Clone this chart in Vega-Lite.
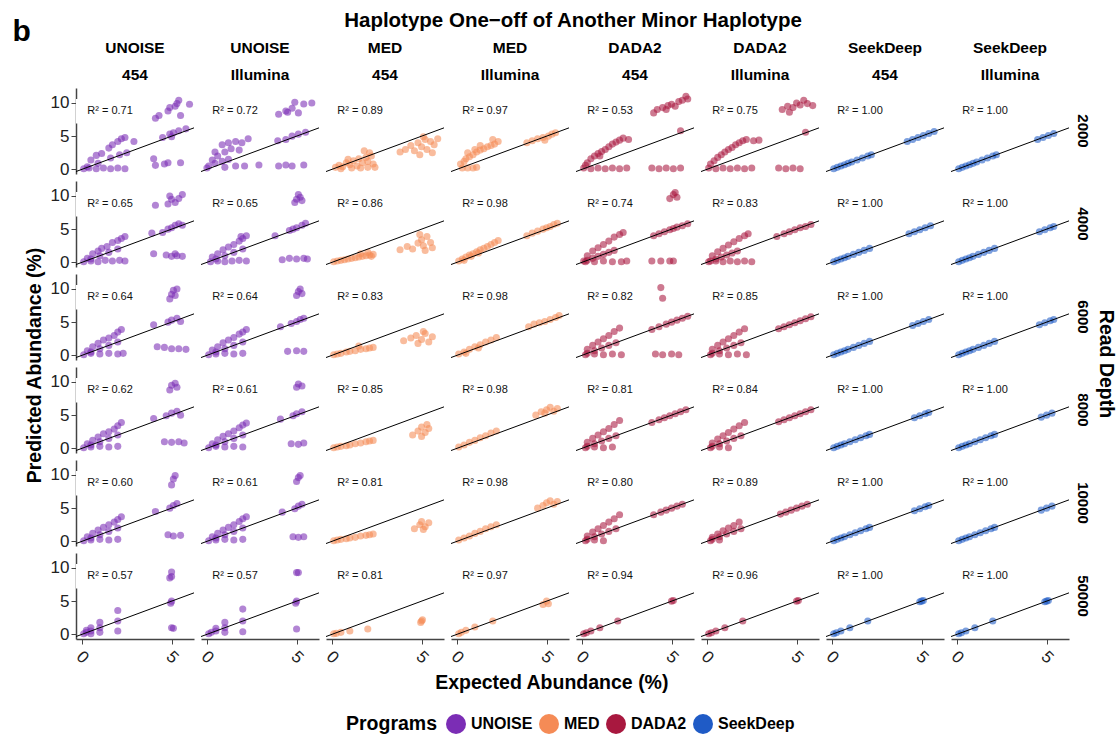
{
"$schema":"https://vega.github.io/schema/vega-lite/v6.json",
"padding":{"left":12,"top":10,"right":0,"bottom":0},
"background":"white",
"title":{"text":"b","anchor":"start","frame":"bounds","fontSize":30,"fontWeight":"bold","font":"Liberation Sans","color":"#000","offset":-36,"dx":-12},
"config":{"font":"Liberation Sans","view":{"stroke":null},"legend":{"layout":{"bottom":{"anchor":"middle"}}}},
"data":{"values":[
{"c":"U4","d":2000,"r":"R² = 0.71"},{"c":"UI","d":2000,"r":"R² = 0.72"},{"c":"M4","d":2000,"r":"R² = 0.89"},{"c":"MI","d":2000,"r":"R² = 0.97"},{"c":"D4","d":2000,"r":"R² = 0.53"},{"c":"DI","d":2000,"r":"R² = 0.75"},{"c":"S4","d":2000,"r":"R² = 1.00"},{"c":"SI","d":2000,"r":"R² = 1.00"},
{"c":"U4","d":4000,"r":"R² = 0.65"},{"c":"UI","d":4000,"r":"R² = 0.65"},{"c":"M4","d":4000,"r":"R² = 0.86"},{"c":"MI","d":4000,"r":"R² = 0.98"},{"c":"D4","d":4000,"r":"R² = 0.74"},{"c":"DI","d":4000,"r":"R² = 0.83"},{"c":"S4","d":4000,"r":"R² = 1.00"},{"c":"SI","d":4000,"r":"R² = 1.00"},
{"c":"U4","d":6000,"r":"R² = 0.64"},{"c":"UI","d":6000,"r":"R² = 0.64"},{"c":"M4","d":6000,"r":"R² = 0.83"},{"c":"MI","d":6000,"r":"R² = 0.98"},{"c":"D4","d":6000,"r":"R² = 0.82"},{"c":"DI","d":6000,"r":"R² = 0.85"},{"c":"S4","d":6000,"r":"R² = 1.00"},{"c":"SI","d":6000,"r":"R² = 1.00"},
{"c":"U4","d":8000,"r":"R² = 0.62"},{"c":"UI","d":8000,"r":"R² = 0.61"},{"c":"M4","d":8000,"r":"R² = 0.85"},{"c":"MI","d":8000,"r":"R² = 0.98"},{"c":"D4","d":8000,"r":"R² = 0.81"},{"c":"DI","d":8000,"r":"R² = 0.84"},{"c":"S4","d":8000,"r":"R² = 1.00"},{"c":"SI","d":8000,"r":"R² = 1.00"},
{"c":"U4","d":10000,"r":"R² = 0.60"},{"c":"UI","d":10000,"r":"R² = 0.61"},{"c":"M4","d":10000,"r":"R² = 0.81"},{"c":"MI","d":10000,"r":"R² = 0.98"},{"c":"D4","d":10000,"r":"R² = 0.80"},{"c":"DI","d":10000,"r":"R² = 0.89"},{"c":"S4","d":10000,"r":"R² = 1.00"},{"c":"SI","d":10000,"r":"R² = 1.00"},
{"c":"U4","d":50000,"r":"R² = 0.57"},{"c":"UI","d":50000,"r":"R² = 0.57"},{"c":"M4","d":50000,"r":"R² = 0.81"},{"c":"MI","d":50000,"r":"R² = 0.97"},{"c":"D4","d":50000,"r":"R² = 0.94"},{"c":"DI","d":50000,"r":"R² = 0.96"},{"c":"S4","d":50000,"r":"R² = 1.00"},{"c":"SI","d":50000,"r":"R² = 1.00"},

{"c":"U4","d":2000,"x":0.1,"y":0.1},{"c":"U4","d":2000,"x":0.4,"y":0.2},{"c":"U4","d":2000,"x":0.8,"y":0.1},{"c":"U4","d":2000,"x":1.2,"y":0.2},{"c":"U4","d":2000,"x":1.6,"y":0.1},{"c":"U4","d":2000,"x":2.0,"y":0.2},{"c":"U4","d":2000,"x":2.4,"y":0.1},
{"c":"U4","d":2000,"x":0.3,"y":0.4},{"c":"U4","d":2000,"x":0.9,"y":0.9},{"c":"U4","d":2000,"x":1.6,"y":1.7},{"c":"U4","d":2000,"x":2.1,"y":2.2},{"c":"U4","d":2000,"x":2.5,"y":2.5},
{"c":"U4","d":2000,"x":0.5,"y":1.4},{"c":"U4","d":2000,"x":0.8,"y":2.1},{"c":"U4","d":2000,"x":1.1,"y":2.4},{"c":"U4","d":2000,"x":1.5,"y":3.2},{"c":"U4","d":2000,"x":1.7,"y":3.7},{"c":"U4","d":2000,"x":2.0,"y":4.2},{"c":"U4","d":2000,"x":2.2,"y":4.6},{"c":"U4","d":2000,"x":2.4,"y":4.8},{"c":"U4","d":2000,"x":2.9,"y":4.2},
{"c":"U4","d":2000,"x":4.1,"y":7.7},{"c":"U4","d":2000,"x":4.3,"y":8.1},{"c":"U4","d":2000,"x":4.8,"y":8.8},{"c":"U4","d":2000,"x":4.9,"y":9.3},{"c":"U4","d":2000,"x":5.2,"y":9.5},{"c":"U4","d":2000,"x":5.4,"y":10.4},{"c":"U4","d":2000,"x":5.5,"y":8.1},{"c":"U4","d":2000,"x":6.0,"y":9.8},{"c":"U4","d":2000,"x":5.3,"y":9.9},
{"c":"U4","d":2000,"x":4.5,"y":4.8},{"c":"U4","d":2000,"x":4.9,"y":5.3},{"c":"U4","d":2000,"x":5.1,"y":5.5},{"c":"U4","d":2000,"x":5.4,"y":5.8},{"c":"U4","d":2000,"x":5.8,"y":6.1},{"c":"U4","d":2000,"x":5.0,"y":4.9},
{"c":"U4","d":2000,"x":4.0,"y":1.6},{"c":"U4","d":2000,"x":4.1,"y":0.6},{"c":"U4","d":2000,"x":4.6,"y":0.8},{"c":"U4","d":2000,"x":4.8,"y":1.0},{"c":"U4","d":2000,"x":5.5,"y":1.0},

{"c":"UI","d":2000,"x":4.0,"y":8.3},{"c":"UI","d":2000,"x":4.4,"y":8.8},{"c":"UI","d":2000,"x":4.75,"y":9.2},{"c":"UI","d":2000,"x":4.9,"y":10.1},{"c":"UI","d":2000,"x":5.4,"y":9.85},{"c":"UI","d":2000,"x":5.85,"y":10.0},{"c":"UI","d":2000,"x":5.1,"y":8.5},{"c":"UI","d":2000,"x":4.5,"y":8.6},
{"c":"UI","d":2000,"x":4.4,"y":4.5},{"c":"UI","d":2000,"x":4.75,"y":5.0},{"c":"UI","d":2000,"x":5.1,"y":5.3},{"c":"UI","d":2000,"x":5.5,"y":5.6},{"c":"UI","d":2000,"x":3.95,"y":4.3},
{"c":"UI","d":2000,"x":4.0,"y":0.5},{"c":"UI","d":2000,"x":4.4,"y":0.65},{"c":"UI","d":2000,"x":4.75,"y":0.5},{"c":"UI","d":2000,"x":5.4,"y":0.65},{"c":"UI","d":2000,"x":2.9,"y":0.65},
{"c":"UI","d":2000,"x":0.85,"y":3.7},{"c":"UI","d":2000,"x":1.2,"y":4.0},{"c":"UI","d":2000,"x":1.6,"y":4.2},{"c":"UI","d":2000,"x":1.95,"y":4.0},{"c":"UI","d":2000,"x":2.3,"y":4.6},{"c":"UI","d":2000,"x":0.45,"y":2.6},
{"c":"UI","d":2000,"x":0.3,"y":1.4},{"c":"UI","d":2000,"x":0.6,"y":2.0},{"c":"UI","d":2000,"x":1.0,"y":2.6},{"c":"UI","d":2000,"x":1.35,"y":3.1},{"c":"UI","d":2000,"x":1.8,"y":2.9},
{"c":"UI","d":2000,"x":0.1,"y":0.5},{"c":"UI","d":2000,"x":0.45,"y":0.9},{"c":"UI","d":2000,"x":0.85,"y":1.2},{"c":"UI","d":2000,"x":1.2,"y":1.5},{"c":"UI","d":2000,"x":1.6,"y":0.5},{"c":"UI","d":2000,"x":2.1,"y":0.5},{"c":"UI","d":2000,"x":0.0,"y":0.2},{"c":"UI","d":2000,"x":1.0,"y":0.3},

{"c":"M4","d":2000,"x":0.2,"y":0.3},{"c":"M4","d":2000,"x":0.4,"y":0.6},{"c":"M4","d":2000,"x":0.6,"y":0.4},{"c":"M4","d":2000,"x":0.8,"y":1.0},{"c":"M4","d":2000,"x":1.0,"y":0.7},{"c":"M4","d":2000,"x":1.2,"y":1.3},{"c":"M4","d":2000,"x":1.4,"y":0.5},{"c":"M4","d":2000,"x":1.5,"y":1.6},{"c":"M4","d":2000,"x":1.7,"y":1.0},{"c":"M4","d":2000,"x":1.9,"y":1.8},{"c":"M4","d":2000,"x":2.0,"y":1.2},{"c":"M4","d":2000,"x":2.2,"y":2.0},{"c":"M4","d":2000,"x":2.3,"y":0.8},{"c":"M4","d":2000,"x":1.8,"y":2.8},{"c":"M4","d":2000,"x":2.1,"y":2.5},{"c":"M4","d":2000,"x":0.5,"y":0.1},{"c":"M4","d":2000,"x":1.1,"y":0.2},{"c":"M4","d":2000,"x":1.6,"y":0.2},{"c":"M4","d":2000,"x":2.0,"y":0.3},{"c":"M4","d":2000,"x":2.4,"y":0.3},{"c":"M4","d":2000,"x":0.9,"y":1.5},
{"c":"M4","d":2000,"x":3.8,"y":2.6},{"c":"M4","d":2000,"x":4.1,"y":3.0},{"c":"M4","d":2000,"x":4.4,"y":3.6},{"c":"M4","d":2000,"x":4.6,"y":2.8},{"c":"M4","d":2000,"x":4.8,"y":4.0},{"c":"M4","d":2000,"x":5.0,"y":3.4},{"c":"M4","d":2000,"x":5.2,"y":4.5},{"c":"M4","d":2000,"x":5.3,"y":3.0},{"c":"M4","d":2000,"x":5.5,"y":4.2},{"c":"M4","d":2000,"x":5.7,"y":3.7},{"c":"M4","d":2000,"x":5.9,"y":4.6},{"c":"M4","d":2000,"x":4.9,"y":2.2},{"c":"M4","d":2000,"x":5.6,"y":2.5},{"c":"M4","d":2000,"x":5.1,"y":4.9},

{"c":"MI","d":2000,"x":0.2,"y":0.8},{"c":"MI","d":2000,"x":0.4,"y":1.2},{"c":"MI","d":2000,"x":0.5,"y":1.6},{"c":"MI","d":2000,"x":0.7,"y":1.9},{"c":"MI","d":2000,"x":0.9,"y":2.2},{"c":"MI","d":2000,"x":1.1,"y":2.6},{"c":"MI","d":2000,"x":1.3,"y":2.9},{"c":"MI","d":2000,"x":1.5,"y":3.1},{"c":"MI","d":2000,"x":1.7,"y":3.4},{"c":"MI","d":2000,"x":1.9,"y":3.6},{"c":"MI","d":2000,"x":2.1,"y":3.8},{"c":"MI","d":2000,"x":2.3,"y":4.2},{"c":"MI","d":2000,"x":0.6,"y":2.5},{"c":"MI","d":2000,"x":1.0,"y":3.0},{"c":"MI","d":2000,"x":1.3,"y":3.6},{"c":"MI","d":2000,"x":2.0,"y":4.5},{"c":"MI","d":2000,"x":0.3,"y":0.2},{"c":"MI","d":2000,"x":0.6,"y":0.2},{"c":"MI","d":2000,"x":0.9,"y":0.2},{"c":"MI","d":2000,"x":1.1,"y":0.3},
{"c":"MI","d":2000,"x":3.9,"y":4.0},{"c":"MI","d":2000,"x":4.2,"y":4.3},{"c":"MI","d":2000,"x":4.5,"y":4.6},{"c":"MI","d":2000,"x":4.8,"y":4.8},{"c":"MI","d":2000,"x":5.1,"y":5.0},{"c":"MI","d":2000,"x":5.3,"y":5.3},{"c":"MI","d":2000,"x":5.5,"y":5.5},{"c":"MI","d":2000,"x":4.9,"y":4.4},

{"c":"D4","d":2000,"x":4.0,"y":8.5},{"c":"D4","d":2000,"x":4.2,"y":9.0},{"c":"D4","d":2000,"x":4.5,"y":9.3},{"c":"D4","d":2000,"x":4.8,"y":9.6},{"c":"D4","d":2000,"x":5.0,"y":9.8},{"c":"D4","d":2000,"x":5.2,"y":9.5},{"c":"D4","d":2000,"x":5.4,"y":10.2},{"c":"D4","d":2000,"x":5.6,"y":10.4},{"c":"D4","d":2000,"x":5.8,"y":11.0},{"c":"D4","d":2000,"x":5.9,"y":10.6},{"c":"D4","d":2000,"x":4.7,"y":9.0},
{"c":"D4","d":2000,"x":0.3,"y":1.0},{"c":"D4","d":2000,"x":0.5,"y":1.6},{"c":"D4","d":2000,"x":0.7,"y":2.0},{"c":"D4","d":2000,"x":0.9,"y":2.4},{"c":"D4","d":2000,"x":1.1,"y":2.7},{"c":"D4","d":2000,"x":1.3,"y":3.0},{"c":"D4","d":2000,"x":1.5,"y":3.4},{"c":"D4","d":2000,"x":1.7,"y":3.8},{"c":"D4","d":2000,"x":1.9,"y":4.1},{"c":"D4","d":2000,"x":2.1,"y":4.4},{"c":"D4","d":2000,"x":2.3,"y":4.7},{"c":"D4","d":2000,"x":2.6,"y":4.5},{"c":"D4","d":2000,"x":0.2,"y":0.6},{"c":"D4","d":2000,"x":1.0,"y":2.0},
{"c":"D4","d":2000,"x":0.1,"y":0.2},{"c":"D4","d":2000,"x":0.5,"y":0.1},{"c":"D4","d":2000,"x":0.9,"y":0.2},{"c":"D4","d":2000,"x":1.3,"y":0.1},{"c":"D4","d":2000,"x":1.7,"y":0.2},{"c":"D4","d":2000,"x":2.1,"y":0.1},{"c":"D4","d":2000,"x":2.5,"y":0.2},{"c":"D4","d":2000,"x":3.9,"y":0.2},{"c":"D4","d":2000,"x":4.3,"y":0.1},{"c":"D4","d":2000,"x":4.7,"y":0.2},{"c":"D4","d":2000,"x":5.1,"y":0.1},{"c":"D4","d":2000,"x":5.5,"y":0.2},{"c":"D4","d":2000,"x":5.5,"y":5.8},

{"c":"DI","d":2000,"x":4.2,"y":9.0},{"c":"DI","d":2000,"x":4.5,"y":9.5},{"c":"DI","d":2000,"x":4.8,"y":9.3},{"c":"DI","d":2000,"x":5.0,"y":10.0},{"c":"DI","d":2000,"x":5.2,"y":9.7},{"c":"DI","d":2000,"x":5.4,"y":10.4},{"c":"DI","d":2000,"x":5.6,"y":9.9},{"c":"DI","d":2000,"x":5.9,"y":9.6},{"c":"DI","d":2000,"x":4.6,"y":8.6},
{"c":"DI","d":2000,"x":0.2,"y":0.8},{"c":"DI","d":2000,"x":0.4,"y":1.3},{"c":"DI","d":2000,"x":0.6,"y":1.8},{"c":"DI","d":2000,"x":0.8,"y":2.2},{"c":"DI","d":2000,"x":1.0,"y":2.6},{"c":"DI","d":2000,"x":1.2,"y":3.0},{"c":"DI","d":2000,"x":1.4,"y":3.3},{"c":"DI","d":2000,"x":1.6,"y":3.7},{"c":"DI","d":2000,"x":1.8,"y":4.0},{"c":"DI","d":2000,"x":2.0,"y":4.3},{"c":"DI","d":2000,"x":2.2,"y":4.5},{"c":"DI","d":2000,"x":2.6,"y":4.3},{"c":"DI","d":2000,"x":2.9,"y":4.4},
{"c":"DI","d":2000,"x":0.1,"y":0.2},{"c":"DI","d":2000,"x":0.5,"y":0.1},{"c":"DI","d":2000,"x":0.9,"y":0.2},{"c":"DI","d":2000,"x":1.3,"y":0.1},{"c":"DI","d":2000,"x":1.7,"y":0.2},{"c":"DI","d":2000,"x":2.1,"y":0.1},{"c":"DI","d":2000,"x":2.5,"y":0.2},{"c":"DI","d":2000,"x":4.0,"y":0.2},{"c":"DI","d":2000,"x":4.4,"y":0.1},{"c":"DI","d":2000,"x":4.8,"y":0.2},{"c":"DI","d":2000,"x":5.2,"y":0.1},{"c":"DI","d":2000,"x":5.5,"y":5.6},

{"c":"S4","d":2000,"x":0.1,"y":0.1},{"c":"S4","d":2000,"x":0.3,"y":0.3},{"c":"S4","d":2000,"x":0.5,"y":0.5},{"c":"S4","d":2000,"x":0.7,"y":0.7},{"c":"S4","d":2000,"x":0.9,"y":0.9},{"c":"S4","d":2000,"x":1.1,"y":1.1},{"c":"S4","d":2000,"x":1.4,"y":1.4},{"c":"S4","d":2000,"x":1.7,"y":1.7},{"c":"S4","d":2000,"x":2.0,"y":2.0},{"c":"S4","d":2000,"x":2.2,"y":2.2},{"c":"S4","d":2000,"x":4.2,"y":4.2},{"c":"S4","d":2000,"x":4.5,"y":4.5},{"c":"S4","d":2000,"x":4.8,"y":4.8},{"c":"S4","d":2000,"x":5.1,"y":5.1},{"c":"S4","d":2000,"x":5.4,"y":5.4},{"c":"S4","d":2000,"x":5.7,"y":5.7},
{"c":"SI","d":2000,"x":0.1,"y":0.1},{"c":"SI","d":2000,"x":0.3,"y":0.3},{"c":"SI","d":2000,"x":0.5,"y":0.5},{"c":"SI","d":2000,"x":0.7,"y":0.7},{"c":"SI","d":2000,"x":0.9,"y":0.9},{"c":"SI","d":2000,"x":1.1,"y":1.1},{"c":"SI","d":2000,"x":1.4,"y":1.4},{"c":"SI","d":2000,"x":1.7,"y":1.7},{"c":"SI","d":2000,"x":2.0,"y":2.0},{"c":"SI","d":2000,"x":2.2,"y":2.2},{"c":"SI","d":2000,"x":4.5,"y":4.5},{"c":"SI","d":2000,"x":4.8,"y":4.8},{"c":"SI","d":2000,"x":5.1,"y":5.1},{"c":"SI","d":2000,"x":5.4,"y":5.4},

{"c":"U4","d":4000,"x":4.1,"y":8.6},{"c":"U4","d":4000,"x":4.8,"y":8.8},{"c":"U4","d":4000,"x":5.0,"y":9.5},{"c":"U4","d":4000,"x":5.2,"y":9.0},{"c":"U4","d":4000,"x":5.4,"y":9.6},{"c":"U4","d":4000,"x":5.6,"y":10.2},{"c":"U4","d":4000,"x":4.9,"y":10.0},{"c":"U4","d":4000,"x":4.5,"y":4.5},{"c":"U4","d":4000,"x":4.8,"y":5.0},{"c":"U4","d":4000,"x":5.0,"y":5.2},{"c":"U4","d":4000,"x":5.2,"y":5.6},{"c":"U4","d":4000,"x":5.4,"y":5.8},{"c":"U4","d":4000,"x":5.6,"y":5.6},{"c":"U4","d":4000,"x":3.9,"y":4.4},{"c":"U4","d":4000,"x":4.0,"y":1.3},{"c":"U4","d":4000,"x":4.7,"y":1.1},{"c":"U4","d":4000,"x":5.0,"y":0.9},{"c":"U4","d":4000,"x":5.3,"y":1.0},{"c":"U4","d":4000,"x":5.6,"y":0.9},{"c":"U4","d":4000,"x":5.2,"y":1.3},{"c":"U4","d":4000,"x":0.3,"y":0.6},{"c":"U4","d":4000,"x":0.6,"y":1.3},{"c":"U4","d":4000,"x":0.9,"y":1.7},{"c":"U4","d":4000,"x":1.1,"y":2.1},{"c":"U4","d":4000,"x":1.4,"y":2.4},{"c":"U4","d":4000,"x":1.7,"y":3.0},{"c":"U4","d":4000,"x":2.0,"y":3.3},{"c":"U4","d":4000,"x":2.2,"y":3.6},{"c":"U4","d":4000,"x":2.4,"y":3.9},{"c":"U4","d":4000,"x":0.5,"y":0.5},{"c":"U4","d":4000,"x":1.0,"y":1.0},{"c":"U4","d":4000,"x":1.5,"y":1.5},{"c":"U4","d":4000,"x":2.0,"y":2.0},{"c":"U4","d":4000,"x":0.1,"y":0.1},{"c":"U4","d":4000,"x":0.5,"y":0.2},{"c":"U4","d":4000,"x":0.9,"y":0.1},{"c":"U4","d":4000,"x":1.3,"y":0.3},{"c":"U4","d":4000,"x":1.7,"y":0.2},{"c":"U4","d":4000,"x":2.1,"y":0.3},{"c":"U4","d":4000,"x":2.4,"y":0.2},

{"c":"UI","d":4000,"x":5.0,"y":9.5},{"c":"UI","d":4000,"x":5.2,"y":9.8},{"c":"UI","d":4000,"x":4.9,"y":9.0},{"c":"UI","d":4000,"x":5.3,"y":9.3},{"c":"UI","d":4000,"x":5.1,"y":10.2},{"c":"UI","d":4000,"x":3.8,"y":4.0},{"c":"UI","d":4000,"x":4.6,"y":4.8},{"c":"UI","d":4000,"x":5.0,"y":5.2},{"c":"UI","d":4000,"x":5.3,"y":5.6},{"c":"UI","d":4000,"x":5.5,"y":5.9},{"c":"UI","d":4000,"x":4.8,"y":5.0},{"c":"UI","d":4000,"x":4.2,"y":0.4},{"c":"UI","d":4000,"x":4.6,"y":0.6},{"c":"UI","d":4000,"x":5.0,"y":0.5},{"c":"UI","d":4000,"x":5.4,"y":0.6},{"c":"UI","d":4000,"x":5.6,"y":0.5},{"c":"UI","d":4000,"x":0.3,"y":0.8},{"c":"UI","d":4000,"x":0.6,"y":1.3},{"c":"UI","d":4000,"x":0.9,"y":1.9},{"c":"UI","d":4000,"x":1.2,"y":2.3},{"c":"UI","d":4000,"x":1.5,"y":2.7},{"c":"UI","d":4000,"x":1.8,"y":3.2},{"c":"UI","d":4000,"x":2.0,"y":3.6},{"c":"UI","d":4000,"x":2.2,"y":4.0},{"c":"UI","d":4000,"x":1.9,"y":3.9},{"c":"UI","d":4000,"x":0.5,"y":0.5},{"c":"UI","d":4000,"x":1.0,"y":1.0},{"c":"UI","d":4000,"x":1.5,"y":1.5},{"c":"UI","d":4000,"x":2.0,"y":2.0},{"c":"UI","d":4000,"x":0.2,"y":0.1},{"c":"UI","d":4000,"x":0.6,"y":0.2},{"c":"UI","d":4000,"x":1.0,"y":0.1},{"c":"UI","d":4000,"x":1.4,"y":0.2},{"c":"UI","d":4000,"x":1.8,"y":0.3},{"c":"UI","d":4000,"x":2.2,"y":0.2},

{"c":"M4","d":4000,"x":0.1,"y":0.1},{"c":"M4","d":4000,"x":0.3,"y":0.2},{"c":"M4","d":4000,"x":0.5,"y":0.3},{"c":"M4","d":4000,"x":0.7,"y":0.4},{"c":"M4","d":4000,"x":0.9,"y":0.5},{"c":"M4","d":4000,"x":1.1,"y":0.6},{"c":"M4","d":4000,"x":1.3,"y":0.7},{"c":"M4","d":4000,"x":1.5,"y":0.8},{"c":"M4","d":4000,"x":1.7,"y":0.9},{"c":"M4","d":4000,"x":1.9,"y":1.0},{"c":"M4","d":4000,"x":2.1,"y":1.1},{"c":"M4","d":4000,"x":2.3,"y":1.2},{"c":"M4","d":4000,"x":1.6,"y":1.3},{"c":"M4","d":4000,"x":2.0,"y":1.5},{"c":"M4","d":4000,"x":2.2,"y":0.9},{"c":"M4","d":4000,"x":3.8,"y":1.9},{"c":"M4","d":4000,"x":4.2,"y":2.4},{"c":"M4","d":4000,"x":4.5,"y":2.0},{"c":"M4","d":4000,"x":4.8,"y":2.9},{"c":"M4","d":4000,"x":5.0,"y":3.4},{"c":"M4","d":4000,"x":5.1,"y":2.5},{"c":"M4","d":4000,"x":5.3,"y":3.9},{"c":"M4","d":4000,"x":5.5,"y":3.0},{"c":"M4","d":4000,"x":5.6,"y":2.2},{"c":"M4","d":4000,"x":4.9,"y":4.2},{"c":"M4","d":4000,"x":5.2,"y":1.8},

{"c":"MI","d":4000,"x":0.1,"y":0.2},{"c":"MI","d":4000,"x":0.3,"y":0.5},{"c":"MI","d":4000,"x":0.5,"y":0.8},{"c":"MI","d":4000,"x":0.7,"y":1.1},{"c":"MI","d":4000,"x":0.9,"y":1.3},{"c":"MI","d":4000,"x":1.1,"y":1.6},{"c":"MI","d":4000,"x":1.3,"y":1.9},{"c":"MI","d":4000,"x":1.5,"y":2.1},{"c":"MI","d":4000,"x":1.7,"y":2.4},{"c":"MI","d":4000,"x":1.9,"y":2.7},{"c":"MI","d":4000,"x":2.1,"y":3.0},{"c":"MI","d":4000,"x":2.3,"y":3.3},{"c":"MI","d":4000,"x":0.4,"y":0.3},{"c":"MI","d":4000,"x":0.8,"y":0.9},{"c":"MI","d":4000,"x":1.2,"y":1.4},{"c":"MI","d":4000,"x":3.9,"y":4.0},{"c":"MI","d":4000,"x":4.2,"y":4.4},{"c":"MI","d":4000,"x":4.5,"y":4.7},{"c":"MI","d":4000,"x":4.8,"y":5.0},{"c":"MI","d":4000,"x":5.0,"y":5.2},{"c":"MI","d":4000,"x":5.2,"y":5.4},{"c":"MI","d":4000,"x":5.4,"y":5.7},{"c":"MI","d":4000,"x":5.6,"y":5.9},

{"c":"D4","d":4000,"x":4.9,"y":9.6},{"c":"D4","d":4000,"x":5.1,"y":10.2},{"c":"D4","d":4000,"x":5.3,"y":9.8},{"c":"D4","d":4000,"x":5.2,"y":10.5},{"c":"D4","d":4000,"x":4.0,"y":4.0},{"c":"D4","d":4000,"x":4.3,"y":4.3},{"c":"D4","d":4000,"x":4.6,"y":4.6},{"c":"D4","d":4000,"x":4.9,"y":4.9},{"c":"D4","d":4000,"x":5.1,"y":5.1},{"c":"D4","d":4000,"x":5.3,"y":5.3},{"c":"D4","d":4000,"x":5.6,"y":5.5},{"c":"D4","d":4000,"x":5.9,"y":5.8},{"c":"D4","d":4000,"x":3.9,"y":0.2},{"c":"D4","d":4000,"x":4.4,"y":0.2},{"c":"D4","d":4000,"x":4.9,"y":0.2},{"c":"D4","d":4000,"x":5.1,"y":0.2},{"c":"D4","d":4000,"x":0.3,"y":1.0},{"c":"D4","d":4000,"x":0.6,"y":1.7},{"c":"D4","d":4000,"x":0.9,"y":2.2},{"c":"D4","d":4000,"x":1.2,"y":2.7},{"c":"D4","d":4000,"x":1.5,"y":3.2},{"c":"D4","d":4000,"x":1.8,"y":3.8},{"c":"D4","d":4000,"x":2.1,"y":4.2},{"c":"D4","d":4000,"x":2.3,"y":4.5},{"c":"D4","d":4000,"x":0.3,"y":0.3},{"c":"D4","d":4000,"x":0.6,"y":0.6},{"c":"D4","d":4000,"x":0.9,"y":0.9},{"c":"D4","d":4000,"x":1.2,"y":1.2},{"c":"D4","d":4000,"x":1.5,"y":1.5},{"c":"D4","d":4000,"x":1.8,"y":1.8},{"c":"D4","d":4000,"x":0.1,"y":0.2},{"c":"D4","d":4000,"x":0.2,"y":0.1},{"c":"D4","d":4000,"x":0.7,"y":0.1},{"c":"D4","d":4000,"x":1.2,"y":0.2},{"c":"D4","d":4000,"x":1.7,"y":0.1},{"c":"D4","d":4000,"x":2.2,"y":0.1},{"c":"D4","d":4000,"x":2.5,"y":0.2},

{"c":"DI","d":4000,"x":3.9,"y":3.9},{"c":"DI","d":4000,"x":4.3,"y":4.3},{"c":"DI","d":4000,"x":4.6,"y":4.6},{"c":"DI","d":4000,"x":4.9,"y":4.9},{"c":"DI","d":4000,"x":5.2,"y":5.2},{"c":"DI","d":4000,"x":5.5,"y":5.4},{"c":"DI","d":4000,"x":5.8,"y":5.7},{"c":"DI","d":4000,"x":0.3,"y":1.0},{"c":"DI","d":4000,"x":0.6,"y":1.6},{"c":"DI","d":4000,"x":0.9,"y":2.1},{"c":"DI","d":4000,"x":1.2,"y":2.6},{"c":"DI","d":4000,"x":1.5,"y":3.1},{"c":"DI","d":4000,"x":1.8,"y":3.6},{"c":"DI","d":4000,"x":2.1,"y":4.0},{"c":"DI","d":4000,"x":2.3,"y":4.3},{"c":"DI","d":4000,"x":0.2,"y":0.2},{"c":"DI","d":4000,"x":0.5,"y":0.5},{"c":"DI","d":4000,"x":0.8,"y":0.8},{"c":"DI","d":4000,"x":1.1,"y":1.1},{"c":"DI","d":4000,"x":1.4,"y":1.4},{"c":"DI","d":4000,"x":1.7,"y":1.7},{"c":"DI","d":4000,"x":0.1,"y":0.1},{"c":"DI","d":4000,"x":0.5,"y":0.2},{"c":"DI","d":4000,"x":0.9,"y":0.1},{"c":"DI","d":4000,"x":1.3,"y":0.2},{"c":"DI","d":4000,"x":1.7,"y":0.1},{"c":"DI","d":4000,"x":2.1,"y":0.2},{"c":"DI","d":4000,"x":2.5,"y":0.1},

{"c":"S4","d":4000,"x":0.1,"y":0.1},{"c":"S4","d":4000,"x":0.3,"y":0.3},{"c":"S4","d":4000,"x":0.5,"y":0.5},{"c":"S4","d":4000,"x":0.7,"y":0.7},{"c":"S4","d":4000,"x":0.9,"y":0.9},{"c":"S4","d":4000,"x":1.2,"y":1.2},{"c":"S4","d":4000,"x":1.5,"y":1.5},{"c":"S4","d":4000,"x":1.8,"y":1.8},{"c":"S4","d":4000,"x":2.1,"y":2.1},{"c":"S4","d":4000,"x":4.3,"y":4.3},{"c":"S4","d":4000,"x":4.6,"y":4.6},{"c":"S4","d":4000,"x":4.9,"y":4.9},{"c":"S4","d":4000,"x":5.2,"y":5.2},{"c":"S4","d":4000,"x":5.5,"y":5.5},
{"c":"SI","d":4000,"x":0.1,"y":0.1},{"c":"SI","d":4000,"x":0.3,"y":0.3},{"c":"SI","d":4000,"x":0.5,"y":0.5},{"c":"SI","d":4000,"x":0.7,"y":0.7},{"c":"SI","d":4000,"x":0.9,"y":0.9},{"c":"SI","d":4000,"x":1.2,"y":1.2},{"c":"SI","d":4000,"x":1.5,"y":1.5},{"c":"SI","d":4000,"x":1.8,"y":1.8},{"c":"SI","d":4000,"x":2.1,"y":2.1},{"c":"SI","d":4000,"x":4.6,"y":4.6},{"c":"SI","d":4000,"x":4.9,"y":4.9},{"c":"SI","d":4000,"x":5.2,"y":5.2},{"c":"SI","d":4000,"x":5.4,"y":5.4},

{"c":"U4","d":6000,"x":4.9,"y":8.5},{"c":"U4","d":6000,"x":5.0,"y":9.2},{"c":"U4","d":6000,"x":5.1,"y":9.8},{"c":"U4","d":6000,"x":5.3,"y":10.0},{"c":"U4","d":6000,"x":5.2,"y":9.0},{"c":"U4","d":6000,"x":4.0,"y":4.6},{"c":"U4","d":6000,"x":4.8,"y":5.0},{"c":"U4","d":6000,"x":5.0,"y":5.3},{"c":"U4","d":6000,"x":5.3,"y":5.6},{"c":"U4","d":6000,"x":5.5,"y":5.1},{"c":"U4","d":6000,"x":4.6,"y":1.2},{"c":"U4","d":6000,"x":5.0,"y":1.0},{"c":"U4","d":6000,"x":5.4,"y":1.0},{"c":"U4","d":6000,"x":5.8,"y":0.9},{"c":"U4","d":6000,"x":4.2,"y":1.3},{"c":"U4","d":6000,"x":0.3,"y":0.7},{"c":"U4","d":6000,"x":0.6,"y":1.3},{"c":"U4","d":6000,"x":0.9,"y":1.8},{"c":"U4","d":6000,"x":1.2,"y":2.3},{"c":"U4","d":6000,"x":1.5,"y":2.6},{"c":"U4","d":6000,"x":1.8,"y":3.0},{"c":"U4","d":6000,"x":2.0,"y":3.5},{"c":"U4","d":6000,"x":2.2,"y":3.9},{"c":"U4","d":6000,"x":0.5,"y":0.5},{"c":"U4","d":6000,"x":1.0,"y":1.0},{"c":"U4","d":6000,"x":1.5,"y":1.5},{"c":"U4","d":6000,"x":2.0,"y":2.0},{"c":"U4","d":6000,"x":0.1,"y":0.1},{"c":"U4","d":6000,"x":0.5,"y":0.3},{"c":"U4","d":6000,"x":1.0,"y":0.2},{"c":"U4","d":6000,"x":1.5,"y":0.3},{"c":"U4","d":6000,"x":2.0,"y":0.2},{"c":"U4","d":6000,"x":2.3,"y":0.3},

{"c":"UI","d":6000,"x":5.0,"y":9.0},{"c":"UI","d":6000,"x":5.1,"y":9.6},{"c":"UI","d":6000,"x":5.2,"y":10.0},{"c":"UI","d":6000,"x":5.3,"y":9.3},{"c":"UI","d":6000,"x":4.1,"y":4.3},{"c":"UI","d":6000,"x":4.7,"y":4.8},{"c":"UI","d":6000,"x":5.0,"y":5.1},{"c":"UI","d":6000,"x":5.2,"y":5.4},{"c":"UI","d":6000,"x":5.4,"y":5.6},{"c":"UI","d":6000,"x":4.5,"y":0.6},{"c":"UI","d":6000,"x":5.0,"y":0.7},{"c":"UI","d":6000,"x":5.4,"y":0.6},{"c":"UI","d":6000,"x":0.3,"y":0.8},{"c":"UI","d":6000,"x":0.6,"y":1.3},{"c":"UI","d":6000,"x":0.9,"y":1.9},{"c":"UI","d":6000,"x":1.2,"y":2.3},{"c":"UI","d":6000,"x":1.5,"y":2.7},{"c":"UI","d":6000,"x":1.8,"y":3.2},{"c":"UI","d":6000,"x":2.0,"y":3.5},{"c":"UI","d":6000,"x":2.2,"y":3.9},{"c":"UI","d":6000,"x":0.5,"y":0.5},{"c":"UI","d":6000,"x":1.0,"y":1.0},{"c":"UI","d":6000,"x":1.5,"y":1.5},{"c":"UI","d":6000,"x":2.0,"y":2.0},{"c":"UI","d":6000,"x":0.1,"y":0.1},{"c":"UI","d":6000,"x":0.5,"y":0.2},{"c":"UI","d":6000,"x":1.0,"y":0.3},{"c":"UI","d":6000,"x":1.5,"y":0.2},{"c":"UI","d":6000,"x":2.0,"y":0.3},

{"c":"M4","d":6000,"x":0.1,"y":0.1},{"c":"M4","d":6000,"x":0.3,"y":0.2},{"c":"M4","d":6000,"x":0.5,"y":0.3},{"c":"M4","d":6000,"x":0.8,"y":0.5},{"c":"M4","d":6000,"x":1.0,"y":0.6},{"c":"M4","d":6000,"x":1.3,"y":0.7},{"c":"M4","d":6000,"x":1.6,"y":0.9},{"c":"M4","d":6000,"x":1.9,"y":1.0},{"c":"M4","d":6000,"x":2.1,"y":1.1},{"c":"M4","d":6000,"x":2.3,"y":1.2},{"c":"M4","d":6000,"x":1.5,"y":1.4},{"c":"M4","d":6000,"x":4.0,"y":2.2},{"c":"M4","d":6000,"x":4.4,"y":2.6},{"c":"M4","d":6000,"x":4.7,"y":3.0},{"c":"M4","d":6000,"x":5.0,"y":2.4},{"c":"M4","d":6000,"x":5.2,"y":3.3},{"c":"M4","d":6000,"x":5.4,"y":2.0},{"c":"M4","d":6000,"x":5.6,"y":2.8},{"c":"M4","d":6000,"x":4.8,"y":1.8},{"c":"M4","d":6000,"x":5.1,"y":3.6},

{"c":"MI","d":6000,"x":0.1,"y":0.2},{"c":"MI","d":6000,"x":0.4,"y":0.5},{"c":"MI","d":6000,"x":0.7,"y":0.9},{"c":"MI","d":6000,"x":1.0,"y":1.3},{"c":"MI","d":6000,"x":1.3,"y":1.6},{"c":"MI","d":6000,"x":1.6,"y":2.0},{"c":"MI","d":6000,"x":1.9,"y":2.3},{"c":"MI","d":6000,"x":2.2,"y":2.7},{"c":"MI","d":6000,"x":0.5,"y":0.3},{"c":"MI","d":6000,"x":1.2,"y":1.1},{"c":"MI","d":6000,"x":4.0,"y":4.3},{"c":"MI","d":6000,"x":4.3,"y":4.7},{"c":"MI","d":6000,"x":4.6,"y":4.9},{"c":"MI","d":6000,"x":4.9,"y":5.1},{"c":"MI","d":6000,"x":5.2,"y":5.4},{"c":"MI","d":6000,"x":5.5,"y":5.7},{"c":"MI","d":6000,"x":5.7,"y":6.0},

{"c":"D4","d":6000,"x":4.4,"y":10.2},{"c":"D4","d":6000,"x":4.5,"y":8.6},{"c":"D4","d":6000,"x":3.9,"y":3.9},{"c":"D4","d":6000,"x":4.3,"y":4.3},{"c":"D4","d":6000,"x":4.7,"y":4.7},{"c":"D4","d":6000,"x":5.0,"y":5.0},{"c":"D4","d":6000,"x":5.3,"y":5.3},{"c":"D4","d":6000,"x":5.6,"y":5.6},{"c":"D4","d":6000,"x":5.9,"y":5.9},{"c":"D4","d":6000,"x":4.1,"y":0.2},{"c":"D4","d":6000,"x":4.5,"y":0.1},{"c":"D4","d":6000,"x":5.0,"y":0.2},{"c":"D4","d":6000,"x":5.4,"y":0.1},{"c":"D4","d":6000,"x":0.3,"y":0.9},{"c":"D4","d":6000,"x":0.6,"y":1.5},{"c":"D4","d":6000,"x":0.9,"y":2.0},{"c":"D4","d":6000,"x":1.2,"y":2.5},{"c":"D4","d":6000,"x":1.5,"y":3.0},{"c":"D4","d":6000,"x":1.8,"y":3.6},{"c":"D4","d":6000,"x":2.1,"y":4.1},{"c":"D4","d":6000,"x":0.3,"y":0.3},{"c":"D4","d":6000,"x":0.7,"y":0.7},{"c":"D4","d":6000,"x":1.1,"y":1.1},{"c":"D4","d":6000,"x":1.5,"y":1.5},{"c":"D4","d":6000,"x":1.9,"y":1.9},{"c":"D4","d":6000,"x":0.2,"y":0.1},{"c":"D4","d":6000,"x":0.7,"y":0.2},{"c":"D4","d":6000,"x":1.2,"y":0.1},{"c":"D4","d":6000,"x":1.7,"y":0.2},{"c":"D4","d":6000,"x":2.2,"y":0.1},

{"c":"DI","d":6000,"x":4.0,"y":4.0},{"c":"DI","d":6000,"x":4.3,"y":4.3},{"c":"DI","d":6000,"x":4.6,"y":4.6},{"c":"DI","d":6000,"x":4.9,"y":4.9},{"c":"DI","d":6000,"x":5.2,"y":5.2},{"c":"DI","d":6000,"x":5.5,"y":5.5},{"c":"DI","d":6000,"x":5.8,"y":5.8},{"c":"DI","d":6000,"x":0.3,"y":0.9},{"c":"DI","d":6000,"x":0.6,"y":1.5},{"c":"DI","d":6000,"x":0.9,"y":2.0},{"c":"DI","d":6000,"x":1.2,"y":2.5},{"c":"DI","d":6000,"x":1.5,"y":3.0},{"c":"DI","d":6000,"x":1.8,"y":3.5},{"c":"DI","d":6000,"x":2.1,"y":4.0},{"c":"DI","d":6000,"x":0.3,"y":0.3},{"c":"DI","d":6000,"x":0.7,"y":0.7},{"c":"DI","d":6000,"x":1.1,"y":1.1},{"c":"DI","d":6000,"x":1.5,"y":1.5},{"c":"DI","d":6000,"x":1.9,"y":1.9},{"c":"DI","d":6000,"x":0.2,"y":0.1},{"c":"DI","d":6000,"x":0.7,"y":0.2},{"c":"DI","d":6000,"x":1.2,"y":0.1},{"c":"DI","d":6000,"x":1.7,"y":0.2},{"c":"DI","d":6000,"x":2.2,"y":0.1},

{"c":"S4","d":6000,"x":0.1,"y":0.1},{"c":"S4","d":6000,"x":0.3,"y":0.3},{"c":"S4","d":6000,"x":0.5,"y":0.5},{"c":"S4","d":6000,"x":0.7,"y":0.7},{"c":"S4","d":6000,"x":0.9,"y":0.9},{"c":"S4","d":6000,"x":1.2,"y":1.2},{"c":"S4","d":6000,"x":1.5,"y":1.5},{"c":"S4","d":6000,"x":1.8,"y":1.8},{"c":"S4","d":6000,"x":2.1,"y":2.1},{"c":"S4","d":6000,"x":4.5,"y":4.5},{"c":"S4","d":6000,"x":4.8,"y":4.8},{"c":"S4","d":6000,"x":5.1,"y":5.1},{"c":"S4","d":6000,"x":5.4,"y":5.4},
{"c":"SI","d":6000,"x":0.1,"y":0.1},{"c":"SI","d":6000,"x":0.3,"y":0.3},{"c":"SI","d":6000,"x":0.5,"y":0.5},{"c":"SI","d":6000,"x":0.7,"y":0.7},{"c":"SI","d":6000,"x":0.9,"y":0.9},{"c":"SI","d":6000,"x":1.2,"y":1.2},{"c":"SI","d":6000,"x":1.5,"y":1.5},{"c":"SI","d":6000,"x":1.8,"y":1.8},{"c":"SI","d":6000,"x":2.1,"y":2.1},{"c":"SI","d":6000,"x":4.6,"y":4.6},{"c":"SI","d":6000,"x":4.9,"y":4.9},{"c":"SI","d":6000,"x":5.2,"y":5.2},{"c":"SI","d":6000,"x":5.4,"y":5.4},

{"c":"U4","d":8000,"x":4.9,"y":8.8},{"c":"U4","d":8000,"x":5.0,"y":9.5},{"c":"U4","d":8000,"x":5.2,"y":9.8},{"c":"U4","d":8000,"x":5.3,"y":9.2},{"c":"U4","d":8000,"x":4.0,"y":4.5},{"c":"U4","d":8000,"x":4.7,"y":4.9},{"c":"U4","d":8000,"x":5.0,"y":5.3},{"c":"U4","d":8000,"x":5.3,"y":5.6},{"c":"U4","d":8000,"x":5.5,"y":5.0},{"c":"U4","d":8000,"x":4.6,"y":1.0},{"c":"U4","d":8000,"x":5.0,"y":0.9},{"c":"U4","d":8000,"x":5.4,"y":1.0},{"c":"U4","d":8000,"x":5.7,"y":0.8},{"c":"U4","d":8000,"x":0.3,"y":0.7},{"c":"U4","d":8000,"x":0.6,"y":1.2},{"c":"U4","d":8000,"x":0.9,"y":1.7},{"c":"U4","d":8000,"x":1.2,"y":2.2},{"c":"U4","d":8000,"x":1.5,"y":2.5},{"c":"U4","d":8000,"x":1.8,"y":2.9},{"c":"U4","d":8000,"x":2.0,"y":3.4},{"c":"U4","d":8000,"x":2.2,"y":3.9},{"c":"U4","d":8000,"x":0.5,"y":0.5},{"c":"U4","d":8000,"x":1.0,"y":1.0},{"c":"U4","d":8000,"x":1.5,"y":1.5},{"c":"U4","d":8000,"x":2.0,"y":2.0},{"c":"U4","d":8000,"x":0.1,"y":0.1},{"c":"U4","d":8000,"x":0.5,"y":0.2},{"c":"U4","d":8000,"x":1.0,"y":0.3},{"c":"U4","d":8000,"x":1.5,"y":0.2},{"c":"U4","d":8000,"x":2.0,"y":0.3},

{"c":"UI","d":8000,"x":5.0,"y":9.2},{"c":"UI","d":8000,"x":5.1,"y":9.7},{"c":"UI","d":8000,"x":5.3,"y":9.4},{"c":"UI","d":8000,"x":4.1,"y":4.4},{"c":"UI","d":8000,"x":4.8,"y":4.9},{"c":"UI","d":8000,"x":5.0,"y":5.2},{"c":"UI","d":8000,"x":5.3,"y":5.5},{"c":"UI","d":8000,"x":4.7,"y":0.7},{"c":"UI","d":8000,"x":5.1,"y":0.6},{"c":"UI","d":8000,"x":5.4,"y":0.8},{"c":"UI","d":8000,"x":0.3,"y":0.7},{"c":"UI","d":8000,"x":0.6,"y":1.3},{"c":"UI","d":8000,"x":0.9,"y":1.8},{"c":"UI","d":8000,"x":1.2,"y":2.2},{"c":"UI","d":8000,"x":1.5,"y":2.6},{"c":"UI","d":8000,"x":1.8,"y":3.1},{"c":"UI","d":8000,"x":2.0,"y":3.5},{"c":"UI","d":8000,"x":2.2,"y":3.8},{"c":"UI","d":8000,"x":0.5,"y":0.5},{"c":"UI","d":8000,"x":1.0,"y":1.0},{"c":"UI","d":8000,"x":1.5,"y":1.5},{"c":"UI","d":8000,"x":2.0,"y":2.0},{"c":"UI","d":8000,"x":0.1,"y":0.1},{"c":"UI","d":8000,"x":0.5,"y":0.3},{"c":"UI","d":8000,"x":1.0,"y":0.2},{"c":"UI","d":8000,"x":1.5,"y":0.3},{"c":"UI","d":8000,"x":2.0,"y":0.2},

{"c":"M4","d":8000,"x":0.1,"y":0.1},{"c":"M4","d":8000,"x":0.3,"y":0.2},{"c":"M4","d":8000,"x":0.5,"y":0.3},{"c":"M4","d":8000,"x":0.8,"y":0.4},{"c":"M4","d":8000,"x":1.0,"y":0.5},{"c":"M4","d":8000,"x":1.3,"y":0.7},{"c":"M4","d":8000,"x":1.6,"y":0.8},{"c":"M4","d":8000,"x":1.9,"y":1.0},{"c":"M4","d":8000,"x":2.1,"y":1.1},{"c":"M4","d":8000,"x":2.3,"y":1.2},{"c":"M4","d":8000,"x":4.5,"y":2.0},{"c":"M4","d":8000,"x":4.8,"y":2.6},{"c":"M4","d":8000,"x":5.0,"y":3.2},{"c":"M4","d":8000,"x":5.2,"y":2.4},{"c":"M4","d":8000,"x":5.4,"y":3.0},{"c":"M4","d":8000,"x":5.0,"y":1.8},{"c":"M4","d":8000,"x":5.3,"y":3.6},

{"c":"MI","d":8000,"x":0.1,"y":0.2},{"c":"MI","d":8000,"x":0.4,"y":0.5},{"c":"MI","d":8000,"x":0.7,"y":0.9},{"c":"MI","d":8000,"x":1.0,"y":1.2},{"c":"MI","d":8000,"x":1.3,"y":1.6},{"c":"MI","d":8000,"x":1.6,"y":1.9},{"c":"MI","d":8000,"x":1.9,"y":2.3},{"c":"MI","d":8000,"x":2.2,"y":2.6},{"c":"MI","d":8000,"x":4.4,"y":5.0},{"c":"MI","d":8000,"x":4.7,"y":5.5},{"c":"MI","d":8000,"x":5.0,"y":5.8},{"c":"MI","d":8000,"x":5.2,"y":6.2},{"c":"MI","d":8000,"x":5.4,"y":5.6},{"c":"MI","d":8000,"x":5.6,"y":6.0},{"c":"MI","d":8000,"x":4.9,"y":5.3},

{"c":"D4","d":8000,"x":3.9,"y":3.9},{"c":"D4","d":8000,"x":4.3,"y":4.3},{"c":"D4","d":8000,"x":4.6,"y":4.6},{"c":"D4","d":8000,"x":4.9,"y":4.9},{"c":"D4","d":8000,"x":5.2,"y":5.2},{"c":"D4","d":8000,"x":5.5,"y":5.5},{"c":"D4","d":8000,"x":5.8,"y":5.8},{"c":"D4","d":8000,"x":0.3,"y":0.9},{"c":"D4","d":8000,"x":0.6,"y":1.5},{"c":"D4","d":8000,"x":0.9,"y":2.0},{"c":"D4","d":8000,"x":1.2,"y":2.5},{"c":"D4","d":8000,"x":1.5,"y":3.0},{"c":"D4","d":8000,"x":1.8,"y":3.6},{"c":"D4","d":8000,"x":2.1,"y":4.2},{"c":"D4","d":8000,"x":0.3,"y":0.3},{"c":"D4","d":8000,"x":0.7,"y":0.7},{"c":"D4","d":8000,"x":1.1,"y":1.1},{"c":"D4","d":8000,"x":1.5,"y":1.5},{"c":"D4","d":8000,"x":1.9,"y":1.9},{"c":"D4","d":8000,"x":0.2,"y":0.1},{"c":"D4","d":8000,"x":0.7,"y":0.2},{"c":"D4","d":8000,"x":1.2,"y":0.1},{"c":"D4","d":8000,"x":1.7,"y":0.2},

{"c":"DI","d":8000,"x":4.0,"y":4.0},{"c":"DI","d":8000,"x":4.3,"y":4.3},{"c":"DI","d":8000,"x":4.6,"y":4.6},{"c":"DI","d":8000,"x":4.9,"y":4.9},{"c":"DI","d":8000,"x":5.2,"y":5.2},{"c":"DI","d":8000,"x":5.5,"y":5.5},{"c":"DI","d":8000,"x":5.8,"y":5.8},{"c":"DI","d":8000,"x":0.3,"y":0.8},{"c":"DI","d":8000,"x":0.6,"y":1.4},{"c":"DI","d":8000,"x":0.9,"y":1.9},{"c":"DI","d":8000,"x":1.2,"y":2.4},{"c":"DI","d":8000,"x":1.5,"y":2.9},{"c":"DI","d":8000,"x":1.8,"y":3.4},{"c":"DI","d":8000,"x":2.1,"y":3.9},{"c":"DI","d":8000,"x":0.3,"y":0.3},{"c":"DI","d":8000,"x":0.7,"y":0.7},{"c":"DI","d":8000,"x":1.1,"y":1.1},{"c":"DI","d":8000,"x":1.5,"y":1.5},{"c":"DI","d":8000,"x":1.9,"y":1.9},{"c":"DI","d":8000,"x":0.2,"y":0.1},{"c":"DI","d":8000,"x":0.7,"y":0.2},{"c":"DI","d":8000,"x":1.2,"y":0.1},

{"c":"S4","d":8000,"x":0.1,"y":0.1},{"c":"S4","d":8000,"x":0.3,"y":0.3},{"c":"S4","d":8000,"x":0.5,"y":0.5},{"c":"S4","d":8000,"x":0.7,"y":0.7},{"c":"S4","d":8000,"x":1.0,"y":1.0},{"c":"S4","d":8000,"x":1.3,"y":1.3},{"c":"S4","d":8000,"x":1.6,"y":1.6},{"c":"S4","d":8000,"x":1.9,"y":1.9},{"c":"S4","d":8000,"x":2.1,"y":2.1},{"c":"S4","d":8000,"x":4.6,"y":4.6},{"c":"S4","d":8000,"x":4.9,"y":4.9},{"c":"S4","d":8000,"x":5.2,"y":5.2},{"c":"S4","d":8000,"x":5.4,"y":5.4},
{"c":"SI","d":8000,"x":0.1,"y":0.1},{"c":"SI","d":8000,"x":0.3,"y":0.3},{"c":"SI","d":8000,"x":0.5,"y":0.5},{"c":"SI","d":8000,"x":0.7,"y":0.7},{"c":"SI","d":8000,"x":1.0,"y":1.0},{"c":"SI","d":8000,"x":1.3,"y":1.3},{"c":"SI","d":8000,"x":1.6,"y":1.6},{"c":"SI","d":8000,"x":1.9,"y":1.9},{"c":"SI","d":8000,"x":2.1,"y":2.1},{"c":"SI","d":8000,"x":4.7,"y":4.7},{"c":"SI","d":8000,"x":5.0,"y":5.0},{"c":"SI","d":8000,"x":5.3,"y":5.3},

{"c":"U4","d":10000,"x":5.0,"y":8.5},{"c":"U4","d":10000,"x":5.1,"y":9.4},{"c":"U4","d":10000,"x":5.2,"y":9.9},{"c":"U4","d":10000,"x":4.1,"y":4.5},{"c":"U4","d":10000,"x":4.9,"y":5.0},{"c":"U4","d":10000,"x":5.1,"y":5.4},{"c":"U4","d":10000,"x":5.3,"y":5.7},{"c":"U4","d":10000,"x":4.8,"y":1.0},{"c":"U4","d":10000,"x":5.1,"y":0.8},{"c":"U4","d":10000,"x":5.5,"y":0.9},{"c":"U4","d":10000,"x":0.3,"y":0.7},{"c":"U4","d":10000,"x":0.6,"y":1.2},{"c":"U4","d":10000,"x":0.9,"y":1.7},{"c":"U4","d":10000,"x":1.2,"y":2.1},{"c":"U4","d":10000,"x":1.5,"y":2.5},{"c":"U4","d":10000,"x":1.8,"y":2.9},{"c":"U4","d":10000,"x":2.0,"y":3.3},{"c":"U4","d":10000,"x":2.2,"y":3.7},{"c":"U4","d":10000,"x":0.5,"y":0.5},{"c":"U4","d":10000,"x":1.0,"y":1.0},{"c":"U4","d":10000,"x":1.5,"y":1.5},{"c":"U4","d":10000,"x":2.0,"y":2.0},{"c":"U4","d":10000,"x":0.1,"y":0.1},{"c":"U4","d":10000,"x":0.5,"y":0.2},{"c":"U4","d":10000,"x":1.0,"y":0.3},{"c":"U4","d":10000,"x":1.5,"y":0.2},{"c":"U4","d":10000,"x":2.0,"y":0.3},

{"c":"UI","d":10000,"x":5.0,"y":9.0},{"c":"UI","d":10000,"x":5.1,"y":9.6},{"c":"UI","d":10000,"x":5.2,"y":9.9},{"c":"UI","d":10000,"x":4.2,"y":4.4},{"c":"UI","d":10000,"x":4.9,"y":4.9},{"c":"UI","d":10000,"x":5.1,"y":5.3},{"c":"UI","d":10000,"x":5.3,"y":5.6},{"c":"UI","d":10000,"x":4.8,"y":0.7},{"c":"UI","d":10000,"x":5.1,"y":0.6},{"c":"UI","d":10000,"x":5.4,"y":0.7},{"c":"UI","d":10000,"x":0.3,"y":0.7},{"c":"UI","d":10000,"x":0.6,"y":1.2},{"c":"UI","d":10000,"x":0.9,"y":1.7},{"c":"UI","d":10000,"x":1.2,"y":2.1},{"c":"UI","d":10000,"x":1.5,"y":2.5},{"c":"UI","d":10000,"x":1.8,"y":3.0},{"c":"UI","d":10000,"x":2.0,"y":3.4},{"c":"UI","d":10000,"x":2.2,"y":3.7},{"c":"UI","d":10000,"x":0.5,"y":0.5},{"c":"UI","d":10000,"x":1.0,"y":1.0},{"c":"UI","d":10000,"x":1.5,"y":1.5},{"c":"UI","d":10000,"x":2.0,"y":2.0},{"c":"UI","d":10000,"x":0.1,"y":0.1},{"c":"UI","d":10000,"x":0.5,"y":0.2},{"c":"UI","d":10000,"x":1.0,"y":0.3},{"c":"UI","d":10000,"x":1.5,"y":0.2},{"c":"UI","d":10000,"x":2.0,"y":0.3},

{"c":"M4","d":10000,"x":0.1,"y":0.1},{"c":"M4","d":10000,"x":0.3,"y":0.2},{"c":"M4","d":10000,"x":0.5,"y":0.3},{"c":"M4","d":10000,"x":0.8,"y":0.4},{"c":"M4","d":10000,"x":1.0,"y":0.5},{"c":"M4","d":10000,"x":1.3,"y":0.6},{"c":"M4","d":10000,"x":1.6,"y":0.8},{"c":"M4","d":10000,"x":1.9,"y":0.9},{"c":"M4","d":10000,"x":2.1,"y":1.0},{"c":"M4","d":10000,"x":2.3,"y":1.1},{"c":"M4","d":10000,"x":4.6,"y":1.9},{"c":"M4","d":10000,"x":4.9,"y":2.5},{"c":"M4","d":10000,"x":5.0,"y":3.0},{"c":"M4","d":10000,"x":5.2,"y":2.2},{"c":"M4","d":10000,"x":5.4,"y":2.8},{"c":"M4","d":10000,"x":5.1,"y":1.8},

{"c":"MI","d":10000,"x":0.1,"y":0.2},{"c":"MI","d":10000,"x":0.4,"y":0.5},{"c":"MI","d":10000,"x":0.7,"y":0.8},{"c":"MI","d":10000,"x":1.0,"y":1.2},{"c":"MI","d":10000,"x":1.3,"y":1.5},{"c":"MI","d":10000,"x":1.6,"y":1.9},{"c":"MI","d":10000,"x":1.9,"y":2.2},{"c":"MI","d":10000,"x":2.2,"y":2.5},{"c":"MI","d":10000,"x":4.5,"y":5.0},{"c":"MI","d":10000,"x":4.8,"y":5.4},{"c":"MI","d":10000,"x":5.0,"y":5.8},{"c":"MI","d":10000,"x":5.2,"y":6.1},{"c":"MI","d":10000,"x":5.4,"y":5.6},{"c":"MI","d":10000,"x":5.6,"y":6.0},

{"c":"D4","d":10000,"x":4.0,"y":4.0},{"c":"D4","d":10000,"x":4.4,"y":4.4},{"c":"D4","d":10000,"x":4.7,"y":4.7},{"c":"D4","d":10000,"x":5.0,"y":5.0},{"c":"D4","d":10000,"x":5.3,"y":5.3},{"c":"D4","d":10000,"x":5.6,"y":5.6},{"c":"D4","d":10000,"x":0.3,"y":0.8},{"c":"D4","d":10000,"x":0.6,"y":1.4},{"c":"D4","d":10000,"x":0.9,"y":1.9},{"c":"D4","d":10000,"x":1.2,"y":2.4},{"c":"D4","d":10000,"x":1.5,"y":2.9},{"c":"D4","d":10000,"x":1.8,"y":3.4},{"c":"D4","d":10000,"x":2.1,"y":4.0},{"c":"D4","d":10000,"x":0.3,"y":0.3},{"c":"D4","d":10000,"x":0.7,"y":0.7},{"c":"D4","d":10000,"x":1.1,"y":1.1},{"c":"D4","d":10000,"x":1.5,"y":1.5},{"c":"D4","d":10000,"x":1.9,"y":1.9},{"c":"D4","d":10000,"x":0.2,"y":0.1},{"c":"D4","d":10000,"x":0.7,"y":0.2},{"c":"D4","d":10000,"x":1.2,"y":0.1},

{"c":"DI","d":10000,"x":4.1,"y":4.1},{"c":"DI","d":10000,"x":4.4,"y":4.4},{"c":"DI","d":10000,"x":4.7,"y":4.7},{"c":"DI","d":10000,"x":5.0,"y":5.0},{"c":"DI","d":10000,"x":5.3,"y":5.3},{"c":"DI","d":10000,"x":5.6,"y":5.6},{"c":"DI","d":10000,"x":0.3,"y":0.6},{"c":"DI","d":10000,"x":0.6,"y":1.1},{"c":"DI","d":10000,"x":0.9,"y":1.6},{"c":"DI","d":10000,"x":1.2,"y":2.0},{"c":"DI","d":10000,"x":1.5,"y":2.4},{"c":"DI","d":10000,"x":1.8,"y":2.9},{"c":"DI","d":10000,"x":0.3,"y":0.3},{"c":"DI","d":10000,"x":0.7,"y":0.7},{"c":"DI","d":10000,"x":1.1,"y":1.1},{"c":"DI","d":10000,"x":1.5,"y":1.5},{"c":"DI","d":10000,"x":1.9,"y":1.9},{"c":"DI","d":10000,"x":0.2,"y":0.1},{"c":"DI","d":10000,"x":0.7,"y":0.2},

{"c":"S4","d":10000,"x":0.1,"y":0.1},{"c":"S4","d":10000,"x":0.3,"y":0.3},{"c":"S4","d":10000,"x":0.5,"y":0.5},{"c":"S4","d":10000,"x":0.7,"y":0.7},{"c":"S4","d":10000,"x":1.0,"y":1.0},{"c":"S4","d":10000,"x":1.3,"y":1.3},{"c":"S4","d":10000,"x":1.6,"y":1.6},{"c":"S4","d":10000,"x":1.9,"y":1.9},{"c":"S4","d":10000,"x":2.1,"y":2.1},{"c":"S4","d":10000,"x":4.6,"y":4.6},{"c":"S4","d":10000,"x":4.9,"y":4.9},{"c":"S4","d":10000,"x":5.2,"y":5.2},{"c":"S4","d":10000,"x":5.4,"y":5.4},
{"c":"SI","d":10000,"x":0.1,"y":0.1},{"c":"SI","d":10000,"x":0.3,"y":0.3},{"c":"SI","d":10000,"x":0.5,"y":0.5},{"c":"SI","d":10000,"x":0.7,"y":0.7},{"c":"SI","d":10000,"x":1.0,"y":1.0},{"c":"SI","d":10000,"x":1.3,"y":1.3},{"c":"SI","d":10000,"x":1.6,"y":1.6},{"c":"SI","d":10000,"x":1.9,"y":1.9},{"c":"SI","d":10000,"x":2.1,"y":2.1},{"c":"SI","d":10000,"x":4.7,"y":4.7},{"c":"SI","d":10000,"x":5.0,"y":5.0},{"c":"SI","d":10000,"x":5.3,"y":5.3},

{"c":"U4","d":50000,"x":0.1,"y":0.1},{"c":"U4","d":50000,"x":0.25,"y":0.3},{"c":"U4","d":50000,"x":0.25,"y":0.6},{"c":"U4","d":50000,"x":0.5,"y":0.5},{"c":"U4","d":50000,"x":0.5,"y":1.0},{"c":"U4","d":50000,"x":0.5,"y":0.1},{"c":"U4","d":50000,"x":1.0,"y":0.3},{"c":"U4","d":50000,"x":1.0,"y":1.0},{"c":"U4","d":50000,"x":1.0,"y":1.8},{"c":"U4","d":50000,"x":2.0,"y":0.5},{"c":"U4","d":50000,"x":2.0,"y":2.0},{"c":"U4","d":50000,"x":2.0,"y":3.6},{"c":"U4","d":50000,"x":5.0,"y":1.0},{"c":"U4","d":50000,"x":5.1,"y":0.9},{"c":"U4","d":50000,"x":5.0,"y":5.0},{"c":"U4","d":50000,"x":4.95,"y":4.7},{"c":"U4","d":50000,"x":5.0,"y":8.7},{"c":"U4","d":50000,"x":5.0,"y":9.4},{"c":"U4","d":50000,"x":4.9,"y":8.5},
{"c":"UI","d":50000,"x":0.1,"y":0.1},{"c":"UI","d":50000,"x":0.25,"y":0.3},{"c":"UI","d":50000,"x":0.5,"y":0.5},{"c":"UI","d":50000,"x":0.5,"y":0.9},{"c":"UI","d":50000,"x":1.0,"y":0.3},{"c":"UI","d":50000,"x":1.0,"y":1.0},{"c":"UI","d":50000,"x":1.0,"y":1.8},{"c":"UI","d":50000,"x":2.0,"y":0.4},{"c":"UI","d":50000,"x":2.0,"y":2.0},{"c":"UI","d":50000,"x":2.0,"y":3.8},{"c":"UI","d":50000,"x":5.0,"y":0.8},{"c":"UI","d":50000,"x":5.0,"y":5.0},{"c":"UI","d":50000,"x":4.95,"y":4.7},{"c":"UI","d":50000,"x":5.0,"y":9.3},{"c":"UI","d":50000,"x":5.1,"y":9.3},
{"c":"M4","d":50000,"x":0.1,"y":0.1},{"c":"M4","d":50000,"x":0.25,"y":0.15},{"c":"M4","d":50000,"x":0.5,"y":0.3},{"c":"M4","d":50000,"x":1.0,"y":0.5},{"c":"M4","d":50000,"x":2.0,"y":0.8},{"c":"M4","d":50000,"x":5.0,"y":2.0},{"c":"M4","d":50000,"x":4.95,"y":1.8},{"c":"M4","d":50000,"x":5.05,"y":2.2},
{"c":"MI","d":50000,"x":0.1,"y":0.1},{"c":"MI","d":50000,"x":0.25,"y":0.3},{"c":"MI","d":50000,"x":0.5,"y":0.6},{"c":"MI","d":50000,"x":1.0,"y":1.1},{"c":"MI","d":50000,"x":2.0,"y":2.0},{"c":"MI","d":50000,"x":4.8,"y":4.5},{"c":"MI","d":50000,"x":5.0,"y":5.0},{"c":"MI","d":50000,"x":5.1,"y":4.6},
{"c":"D4","d":50000,"x":0.1,"y":0.1},{"c":"D4","d":50000,"x":0.25,"y":0.25},{"c":"D4","d":50000,"x":0.5,"y":0.5},{"c":"D4","d":50000,"x":1.0,"y":1.0},{"c":"D4","d":50000,"x":2.0,"y":2.0},{"c":"D4","d":50000,"x":5.0,"y":5.0},{"c":"D4","d":50000,"x":5.1,"y":5.1},
{"c":"DI","d":50000,"x":0.1,"y":0.1},{"c":"DI","d":50000,"x":0.25,"y":0.25},{"c":"DI","d":50000,"x":0.5,"y":0.5},{"c":"DI","d":50000,"x":1.0,"y":1.0},{"c":"DI","d":50000,"x":2.0,"y":2.0},{"c":"DI","d":50000,"x":5.0,"y":5.0},{"c":"DI","d":50000,"x":5.1,"y":5.1},
{"c":"S4","d":50000,"x":0.1,"y":0.1},{"c":"S4","d":50000,"x":0.25,"y":0.25},{"c":"S4","d":50000,"x":0.5,"y":0.5},{"c":"S4","d":50000,"x":1.0,"y":1.0},{"c":"S4","d":50000,"x":2.0,"y":2.0},{"c":"S4","d":50000,"x":5.0,"y":5.0},{"c":"S4","d":50000,"x":4.9,"y":4.9},{"c":"S4","d":50000,"x":5.1,"y":5.1},
{"c":"SI","d":50000,"x":0.1,"y":0.1},{"c":"SI","d":50000,"x":0.25,"y":0.25},{"c":"SI","d":50000,"x":0.5,"y":0.5},{"c":"SI","d":50000,"x":1.0,"y":1.0},{"c":"SI","d":50000,"x":2.0,"y":2.0},{"c":"SI","d":50000,"x":5.0,"y":5.0},{"c":"SI","d":50000,"x":4.9,"y":4.9},{"c":"SI","d":50000,"x":5.1,"y":5.1}
]},
"vconcat":[{
 "title":{"text":"Predicted Abundance (%)","orient":"left","anchor":"middle","fontSize":19.5,"fontWeight":"bold","font":"Liberation Sans","color":"#000","offset":5,"dx":-14},
 "hconcat":[{
  "title":{"text":"Expected Abundance (%)","orient":"bottom","anchor":"middle","fontSize":19.5,"fontWeight":"bold","font":"Liberation Sans","color":"#000","offset":8,"dx":-31},
  "vconcat":[{
   "facet":{
    "column":{"field":"c","type":"nominal","sort":["U4","UI","M4","MI","D4","DI","S4","SI"],"title":"Haplotype One−off of Another Minor Haplotype",
     "header":{"labelExpr":"[slice(datum.value,0,1)=='U'?'UNOISE':slice(datum.value,0,1)=='M'?'MED':slice(datum.value,0,1)=='D'?'DADA2':'SeekDeep', slice(datum.value,1)=='4'?'454':'Illumina']",
      "labelFontSize":15.5,"labelFontWeight":"bold","labelFont":"Liberation Sans","labelLineHeight":27,"labelPadding":5,"labelColor":"#000",
      "titleFontSize":20.5,"titleFontWeight":"bold","titleFont":"Liberation Sans","titlePadding":-1,"titleColor":"#000"}},
    "row":{"field":"d","type":"ordinal","title":"Read Depth",
     "header":{"labelOrient":"right","labelAngle":90,"titleOrient":"right","titleAngle":90,"labelFontSize":15,"labelFontWeight":"bold","labelFont":"Liberation Sans","labelPadding":6,"labelColor":"#000",
      "titleFontSize":19.5,"titleFontWeight":"bold","titleFont":"Liberation Sans","titlePadding":-5,"titleColor":"#000"}}
   },
   "bounds":"flush",
   "spacing":{"row":7,"column":7},
   "spec":{
    "width":118,"height":86,
    "layer":[
     {"transform":[{"filter":"isValid(datum.r)"}],
      "mark":{"type":"rect","color":"white","opacity":1},
      "encoding":{"x":{"datum":-0.33},"x2":{"datum":3.6},"y":{"datum":6.9},"y2":{"datum":10.6}}},
     {"transform":[{"filter":"isValid(datum.x)"}],
      "mark":{"type":"circle","size":50,"opacity":0.58},
      "encoding":{
       "x":{"field":"x","type":"quantitative","title":null,
        "scale":{"domain":[-0.33,6.25],"nice":false,"zero":false},
        "axis":{"title":null,"values":[0,2.5,5],"labelExpr":"datum.value==2.5?'':datum.label","labelAngle":45,"labelAlign":"center","labelBaseline":"middle","labelPadding":13,"labelFontSize":17,"labelColor":"#222",
         "gridColor":{"condition":{"test":"datum.value==2.5","value":"#a8a8a8"},"value":"#8c8c8c"},"gridWidth":1,
         "tickOpacity":{"condition":{"test":"datum.value==2.5","value":0},"value":1},"tickColor":"#444","tickSize":5,
         "domainColor":"#444","domainWidth":1.5}},
       "y":{"field":"y","type":"quantitative","title":null,
        "scale":{"domain":[-0.7,12.25],"nice":false,"zero":false},
        "axis":{"title":null,"minExtent":0,"values":[0,2.5,5,7.5,10],"labelExpr":"datum.value%5==0?datum.label:''","labelFontSize":17,"labelColor":"#222","labelPadding":2,
         "gridColor":{"condition":{"test":"datum.value%5!=0","value":"#a8a8a8"},"value":"#8c8c8c"},"gridWidth":1,
         "tickOpacity":{"condition":{"test":"datum.value%5!=0","value":0},"value":1},"tickColor":"#444","tickSize":5,
         "domainColor":"#444","domainWidth":1.5}},
       "color":{"field":"c","type":"nominal",
        "scale":{"domain":["U4","UI","M4","MI","D4","DI","S4","SI"],"range":["#7B2DB5","#7B2DB5","#F58B56","#F58B56","#A8183F","#A8183F","#1F5BC6","#1F5BC6"]},
        "legend":{"orient":"bottom","direction":"horizontal","title":"Programs","titleOrient":"left","values":["U4","M4","D4","S4"],
         "labelExpr":"slice(datum.value,0,1)=='U'?'UNOISE':slice(datum.value,0,1)=='M'?'MED':slice(datum.value,0,1)=='D'?'DADA2':'SeekDeep'",
         "symbolType":"circle","symbolSize":400,"symbolOpacity":1,"symbolStrokeWidth":0,"offset":21,
         "labelFontSize":16,"labelFontWeight":"bold","labelColor":"#000","labelOffset":5,"columnPadding":6,
         "titleFontSize":19.5,"titleFontWeight":"bold","titleColor":"#000","titlePadding":8,"titleBaseline":"middle"}}
      }},
     {"transform":[{"filter":"isValid(datum.r)"}],
      "mark":{"type":"rule","color":"#000","strokeWidth":1},
      "encoding":{"x":{"datum":-0.33},"y":{"datum":-0.33},"x2":{"datum":6.25},"y2":{"datum":6.25}}},
     {"transform":[{"filter":"isValid(datum.r)"}],
      "mark":{"type":"text","align":"left","baseline":"middle","fontSize":11,"color":"#111"},
      "encoding":{"x":{"datum":0.3},"y":{"datum":8.8},"text":{"field":"r"}}}
    ]
   }
  }]
 }]
}]
}
